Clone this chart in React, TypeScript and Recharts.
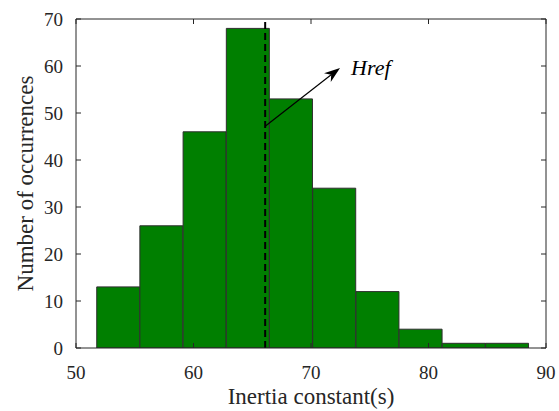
import { ComposedChart, Bar, XAxis, YAxis, ReferenceLine } from 'recharts'

// histogram bins (centres) and counts
const binCenters = [53.6, 57.27, 60.95, 64.63, 68.3, 71.98, 75.66, 79.33, 83.01, 86.69]
const counts = [13, 26, 46, 68, 53, 34, 12, 4, 1, 1]
const xTicks = [50, 60, 70, 80, 90]
const yTicks = [0, 10, 20, 30, 40, 50, 60, 70]
const hRef = 66.1
const arrowFrom = { x: 66.1, y: 47.2 }
const arrowTo = { x: 72.47, y: 59.6 }

const data = binCenters.map((x, i) => ({ x, count: counts[i] }))

const ink = '#262626'
const font = '"Liberation Serif", "Times New Roman", serif'

function Arrow(props: any) {
  const { x1, y1, x2, y2 } = props
  const a = Math.atan2(y2 - y1, x2 - x1)
  const len = 16
  const half = 5.5
  const bx = x2 - len * Math.cos(a)
  const by = y2 - len * Math.sin(a)
  const nx = x2 - len * 0.7 * Math.cos(a)
  const ny = y2 - len * 0.7 * Math.sin(a)
  const px = -Math.sin(a) * half
  const py = Math.cos(a) * half
  return (
    <g>
      <line x1={x1} y1={y1} x2={nx} y2={ny} stroke="#000" strokeWidth={1.2} />
      <polygon
        points={`${x2},${y2} ${bx + px},${by + py} ${nx},${ny} ${bx - px},${by - py}`}
        fill="#000"
      />
      <text x={x2 + 11} y={y2 + 7} fontSize={22} fontStyle="italic" fontFamily={font} fill="#000">
        Href
      </text>
    </g>
  )
}

const noTick = () => null
const tickStyle = { fill: ink, fontSize: 19, fontFamily: font }

export default function App() {
  return (
    <div style={{ width: 559, height: 411, fontFamily: font, background: '#fff' }}>
      <style>{'body{margin:0}'}</style>
      <ComposedChart
        width={559}
        height={411}
        data={data}
        margin={{ top: 19, right: 13, bottom: 0, left: 0 }}
        barCategoryGap={0}
        barGap={0}
        style={{ fontFamily: font }}
      >
        <XAxis
          xAxisId="b"
          dataKey="x"
          type="number"
          domain={[50, 90]}
          ticks={xTicks}
          allowDataOverflow
          height={63}
          tickSize={-5}
          tickMargin={23}
          stroke={ink}
          tick={tickStyle}
          label={{
            value: 'Inertia constant(s)',
            position: 'insideBottom',
            offset: 7,
            style: { fontSize: 23, fill: ink, fontFamily: font },
          }}
        />
        <XAxis
          xAxisId="t"
          orientation="top"
          dataKey="x"
          type="number"
          domain={[50, 90]}
          ticks={xTicks}
          allowDataOverflow
          mirror
          tickSize={5}
          stroke={ink}
          tick={noTick}
        />
        <YAxis
          yAxisId="l"
          type="number"
          domain={[0, 70]}
          ticks={yTicks}
          allowDataOverflow
          width={76}
          tickSize={-5}
          tickMargin={18}
          stroke={ink}
          tick={tickStyle}
          label={{
            value: 'Number of occurrences',
            angle: -90,
            position: 'insideLeft',
            offset: 25,
            style: { textAnchor: 'middle', fontSize: 23, fill: ink, fontFamily: font },
          }}
        />
        <YAxis
          yAxisId="r"
          orientation="right"
          type="number"
          domain={[0, 70]}
          ticks={yTicks}
          allowDataOverflow
          mirror
          tickSize={5}
          stroke={ink}
          tick={noTick}
        />
        <Bar
          xAxisId="b"
          yAxisId="l"
          dataKey="count"
          fill="#007f00"
          stroke="#2e2e2e"
          strokeWidth={1}
          isAnimationActive={false}
        />
        <ReferenceLine
          xAxisId="b"
          yAxisId="l"
          x={hRef}
          stroke="#000"
          strokeWidth={2}
          strokeDasharray="7 4"
        />
        <ReferenceLine
          xAxisId="b"
          yAxisId="l"
          segment={[arrowFrom, arrowTo]}
          shape={Arrow}
        />
      </ComposedChart>
    </div>
  )
}
